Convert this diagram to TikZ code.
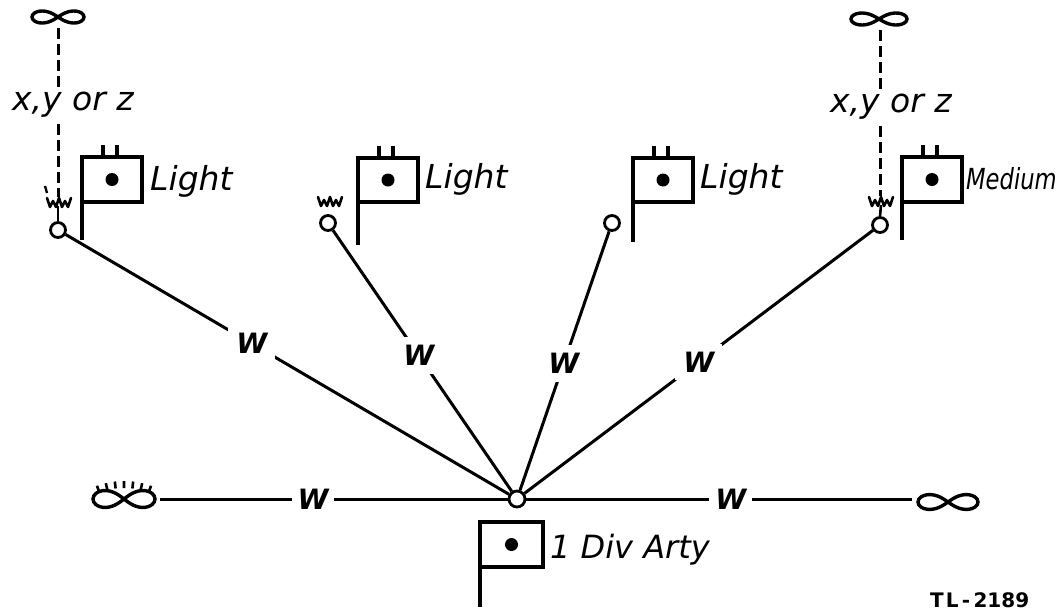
\documentclass[tikz,border=0pt]{standalone}
\usepackage{fontspec}
\setmainfont{DejaVu Sans}
\newfontfamily\narrowfont[FakeStretch=0.78]{DejaVu Sans}
\begin{document}
\begin{tikzpicture}[x=1pt,y=-1pt,
  wire/.style={line width=3pt},
  stn/.style={circle,draw,line width=2.8pt,minimum size=15pt,inner sep=0pt},
  wlab/.style={font=\fontsize{28}{30}\selectfont\bfseries\itshape,fill=white,inner sep=8pt},
  lab/.style={font=\fontsize{33}{36}\selectfont\itshape,anchor=base west,inner sep=0pt},
  flagline/.style={line width=3.6pt},
  dashwire/.style={line width=3pt,dash pattern=on 11pt off 5pt},
  pics/infsym/.style n args={2}{code={\draw[line width=3.4pt] plot[smooth cycle,samples=48,domain=0:352.5] ({#1*cos(\x)/(1+(sin(\x))^2)},{#2*sin(\x)*cos(\x)/(1+(sin(\x))^2)});}},
  pics/flagsym/.style n args={3}{code={\draw[flagline] (0,0) rectangle (#1,#2); \draw[flagline] (0,#2) -- (0,#2+#3); \fill (#1/2,#2/2) circle (6.5pt);}},
  pics/ticks/.style={code={\draw[flagline] (21,0)--(21,-12) (35,0)--(35,-12);}},
  pics/antenna/.style={code={\draw[line width=2.6pt,line join=round,line cap=round] (-12,-5)--(-9,4)--(-6,-2)--(-3,4)--(0,-5)--(3,4)--(6,-2)--(9,4)--(12,-5);}}
]
\useasboundingbox (0,0) rectangle (1060,611);

% stations
\node[stn] (s1) at (58,230) {};
\node[stn] (s2) at (328,223) {};
\node[stn] (s3) at (612,223) {};
\node[stn] (s4) at (880,225) {};
\node[stn,minimum size=16pt] (hub) at (517,499) {};

% antennas
\coordinate (a1) at (59,203);
\coordinate (a2) at (330,202);
\coordinate (a4) at (881,202);
\pic at (a1) {antenna};
\pic at (a2) {antenna};
\pic at (a4) {antenna};
\draw[line width=2.6pt] (58,206) -- (s1.north);
\draw[line width=2.6pt] (881,205) -- (s4.north);
\draw[line width=2.4pt] (45,186) -- (47,193);

% top infinity symbols and dashed lines
\coordinate (i1) at (58,17);
\coordinate (i4) at (879,19);
\pic at (i1) {infsym={26}{17}};
\pic at (i4) {infsym={28}{17}};
\draw[dashwire] (58,28) -- (58,197);
\draw[dashwire] (880,30) -- (880,196);
\node[lab,fill=white,inner sep=2pt] (xyz1) at (10,110) {x,y or z};
\node[lab,fill=white,inner sep=2pt] (xyz4) at (828,112) {x,y or z};

% flags
\pic at (82,157) {flagsym={60}{45}{38}};
\pic at (82,157) {ticks};
\node[lab] (l1) at (150,190) {Light};
\pic at (358,158) {flagsym={60}{44}{43}};
\pic at (358,158) {ticks};
\node[lab] (l2) at (425,188) {Light};
\pic at (633,158) {flagsym={60}{44}{40}};
\pic at (633,158) {ticks};
\node[lab] (l3) at (700,188) {Light};
\pic at (902,157) {flagsym={60}{45}{38}};
\pic at (902,157) {ticks};
\node[lab,font=\narrowfont\fontsize{29}{32}\selectfont\itshape] (l4) at (966,189) {Medium};
\pic at (480,522) {flagsym={63}{45}{40}};
\node[lab,font=\fontsize{32}{36}\selectfont\itshape] (lb) at (550,558) {1 Div Arty};

% wires
\draw[wire] (hub) -- node[wlab,pos=0.58]{W} (s1);
\draw[wire] (hub) -- node[wlab,pos=0.52]{W} (s2);
\draw[wire] (hub) -- node[wlab,pos=0.49]{W} (s3);
\draw[wire] (hub) -- node[wlab,pos=0.50]{W} (s4);

% horizontal wires
\coordinate (linf) at (160,499);
\coordinate (rinf) at (912,499);
\draw[wire] (hub) -- node[wlab,pos=0.56,inner sep=6pt]{W} (linf);
\draw[wire] (hub) -- node[wlab,pos=0.53,inner sep=6pt]{W} (rinf);
\pic at (124,499) {infsym={31}{24}};
\pic at (948,502) {infsym={30}{21}};
\foreach \k in {0,...,6}
  \draw[line width=2.6pt,shift={(124,560)}] (70+\k*6.667:72pt) -- (70+\k*6.667:79pt);

\node[font=\fontsize{20}{22}\selectfont\bfseries,anchor=base west,inner sep=0pt] (tl) at (930,607) {T\kern2pt L\,-\,2189};
\end{tikzpicture}
\end{document}
